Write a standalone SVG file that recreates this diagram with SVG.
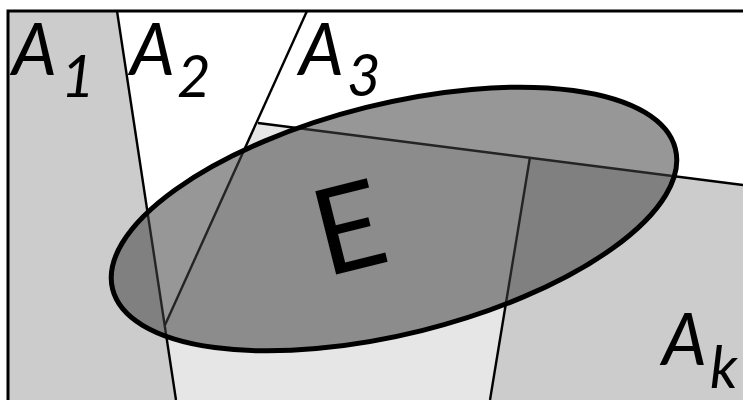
<svg xmlns="http://www.w3.org/2000/svg" width="743" height="400" viewBox="0 0 743 400">
  <style>
    .light { fill: #cccccc; }
    .white { fill: #ffffff; }
    .pale { fill: #e6e6e6; }
    .edge { stroke: #000; stroke-width: 2.4; fill: none; stroke-linecap: butt; }
    .lbl { font-family: Lato, "Open Sans", "DejaVu Sans", sans-serif; font-style: italic; fill: #000; }
    .big { font-size: 71px; }
    .sub { font-size: 58px; }
  </style>
  <rect x="0" y="0" width="743" height="400" fill="#ffffff"/>
  <g id="A1"><polygon class="light" points="8,11 117,11 176,400 8,400"/></g>
  <g id="A2"><polygon class="white" points="117,11 307,11 165,325"/></g>
  <g id="A3"><polygon class="white" points="307,11 743,11 743,185 530,157 258,123"/></g>
  <g id="middle"><polygon class="pale" points="258,123 530,157 490,400 176,400 165,325"/></g>
  <g id="Ak"><polygon class="light" points="530,157 743,185 743,400 490,400"/></g>
  <g id="connectors">
    <line class="edge" x1="117" y1="11" x2="176" y2="400"/>
    <line class="edge" x1="307" y1="11" x2="165" y2="325"/>
    <line class="edge" x1="258" y1="123" x2="743" y2="185"/>
    <line class="edge" x1="530" y1="157" x2="490" y2="400"/>
  </g>
  <g id="frame"><path d="M8,402 V11 H745" fill="none" stroke="#000" stroke-width="3"/></g>
  <g id="E">
    <ellipse cx="394" cy="219" rx="290" ry="115" transform="rotate(-14 394 219)" fill="#424242" fill-opacity="0.55"/>
    <ellipse cx="394" cy="219" rx="290" ry="115" transform="rotate(-14 394 219)" fill="none" stroke="#000" stroke-width="5"/>
    <text x="349" y="270" transform="rotate(-14 349 228)" text-anchor="middle" font-family="Lato, 'Open Sans', 'DejaVu Sans', sans-serif" font-size="120" fill="#000">E</text>
  </g>
  <g id="label-A1"><text class="lbl big" x="12" y="75">A</text><text class="lbl sub" x="61" y="97">1</text></g>
  <g id="label-A2"><text class="lbl big" x="130" y="75">A</text><text class="lbl sub" x="177" y="97">2</text></g>
  <g id="label-A3"><text class="lbl big" x="299" y="75">A</text><text class="lbl sub" x="347" y="96">3</text></g>
  <g id="label-Ak"><text class="lbl big" x="662" y="365">A</text><text class="lbl sub" x="710" y="388">k</text></g>
</svg>
